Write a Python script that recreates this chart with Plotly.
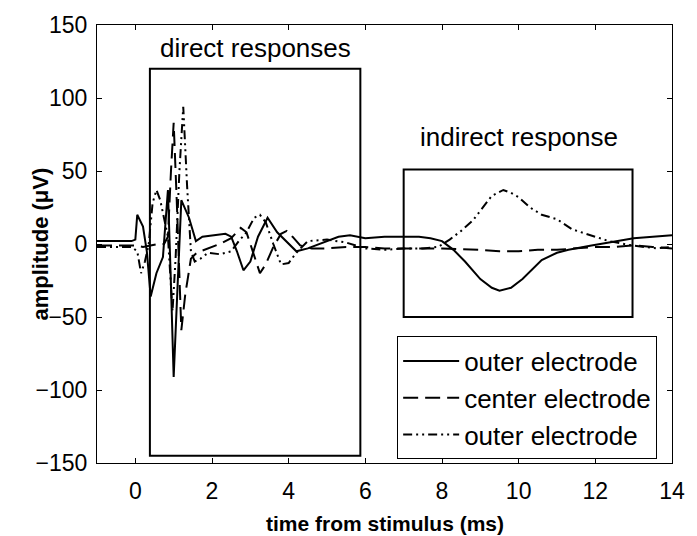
import plotly.graph_objects as go

# Recorded traces: time from stimulus (ms) and amplitude (uV)
t_outer_a = [-1.0, -0.5, -0.1, 0.0, 0.05, 0.2, 0.3, 0.4, 0.55, 0.72, 0.85, 0.92, 1.0, 1.1, 1.2,
             1.4, 1.58, 1.75, 2.0, 2.35, 2.5, 2.65, 2.82, 3.0, 3.2, 3.45, 3.7, 4.05, 4.2, 4.5,
             4.8, 5.0, 5.3, 5.6, 6.0, 6.5, 7.0, 7.4, 7.7, 8.0, 8.3, 8.6, 9.0, 9.3, 9.5, 9.8,
             10.1, 10.6, 11.0, 11.3, 11.9, 12.5, 13.0, 13.5, 14.0]
v_outer_a = [2, 2, 2, 3, 20, 12, -5, -36, -20, -9, 37, -20, -91, -30, 30,
             18, 2, 5, 6, 7, 5, -5, -18, -12, 5, 18, 8, -1, -5, -3,
             0, 2, 5, 6, 4, 5, 5, 5, 4, 2, -4, -12, -24, -30, -32, -30,
             -24, -11, -6, -4, -1, 2, 4, 5, 6]

t_center = [-1.0, -0.5, 0.0, 0.2, 0.4, 0.6, 0.75, 0.85, 0.93, 1.0, 1.08, 1.2, 1.3, 1.45, 1.6,
            1.9, 2.2, 2.5, 2.75, 2.9, 3.1, 3.25, 3.4, 3.6, 3.8, 3.95, 4.1, 4.3, 4.6, 5.0,
            5.5, 6.0, 6.5, 7.0, 8.0, 9.0, 9.5, 10.0, 10.5, 11.0, 11.5, 12.0, 12.5, 13.0,
            13.5, 14.0]
v_center = [-1, -1, -1, -2, -1, 0, 0, 5, 50, 83, 30, -59, -35, -10, -6,
            -3, 0, 4, 11, 8, -8, -20, -14, -2, 7, 9, 5, -1, -3, -3,
            -2, -2, -3, -3, -3, -4, -5, -5, -4, -4, -3, -2, -2, -1,
            -2, -3]

t_outer_b = [-1.0, -0.5, -0.1, 0.05, 0.15, 0.25, 0.35, 0.45, 0.55, 0.65, 0.75, 0.85, 0.97, 1.05,
             1.15, 1.25, 1.35, 1.45, 1.55, 1.7, 1.9, 2.2, 2.5, 2.7, 2.9, 3.1, 3.25, 3.4, 3.6,
             3.8, 4.0, 4.2, 4.5, 5.0, 5.5, 6.0, 6.5, 7.0, 7.5, 7.9, 8.2, 8.5, 8.8, 9.1, 9.3,
             9.6, 9.8, 10.0, 10.3, 10.6, 11.0, 11.4, 11.9, 12.35, 12.95, 13.6, 14.0]
v_outer_b = [-2, -2, -2, -5, -20, -12, 0, 28, 37, 30, 18, 5, -46, -10,
             50, 94, 40, -5, -12, -10, -6, -7, -5, 2, 8, 18, 20, 15, 0,
             -14, -13, -6, 2, 3, 1, -3, -4, -3, -3, -2, 3, 9, 16, 26, 33,
             37, 35, 32, 25, 20, 17, 10, 6, 2, -1, -3, -2]

trace_names = ["outer electrode", "center electrode", "outer electrode"]
x_ticks = [0, 2, 4, 6, 8, 10, 12, 14]
y_ticks = [-150, -100, -50, 0, 50, 100, 150]

# Highlighted windows: (x0, x1, y0, y1)
direct_window = (0.38, 5.87, -145, 120)
indirect_window = (7.0, 12.97, -50, 51)

FONT = "Arial, Liberation Sans, sans-serif"

fig = go.Figure()
fig.add_trace(go.Scatter(x=t_outer_a, y=v_outer_a, mode="lines", name=trace_names[0],
                         line=dict(color="black", width=2)))
fig.add_trace(go.Scatter(x=t_center, y=v_center, mode="lines", name=trace_names[1],
                         line=dict(color="black", width=2, dash="15px,7px")))
fig.add_trace(go.Scatter(x=t_outer_b, y=v_outer_b, mode="lines", name=trace_names[2],
                         line=dict(color="black", width=2, dash="9px,4px,2px,4px,2px,4px")))

for (x0, x1, y0, y1) in (direct_window, indirect_window):
    fig.add_shape(type="rect", x0=x0, x1=x1, y0=y0, y1=y1, xref="x", yref="y",
                  line=dict(color="black", width=2), fillcolor="rgba(0,0,0,0)")

fig.add_annotation(x=3.13, y=134, text="direct responses", showarrow=False,
                   font=dict(family=FONT, size=26, color="black"))
fig.add_annotation(x=10.0, y=73, text="indirect response", showarrow=False,
                   font=dict(family=FONT, size=26, color="black"))

# Axis titles
fig.add_annotation(x=0.5, y=0, xref="paper", yref="paper", yanchor="top", yshift=-47,
                   text="<b>time from stimulus (ms)</b>", showarrow=False,
                   font=dict(family=FONT, size=21, color="black"))
fig.add_annotation(x=-0.1, y=0.5, xref="paper", yref="paper", textangle=-90,
                   xanchor="center", yanchor="middle",
                   text="<b>amplitude (μV)</b>", showarrow=False,
                   font=dict(family=FONT, size=22, color="black"))

axis_common = dict(showline=True, linecolor="black", linewidth=1, mirror="allticks",
                   ticks="inside", ticklen=5, tickcolor="black", showgrid=False,
                   zeroline=False, tickfont=dict(family=FONT, size=23, color="black"))

fig.update_xaxes(range=[-1, 14], tickvals=x_ticks, ticklabelstandoff=7, **axis_common)
fig.update_yaxes(range=[-150, 150], tickvals=y_ticks, ticklabelstandoff=4, **axis_common)

fig.update_layout(
    width=697, height=536,
    margin=dict(l=97, r=14, t=15, b=73),
    paper_bgcolor="white", plot_bgcolor="white",
    font=dict(family=FONT, color="black"),
    showlegend=True,
    legend=dict(x=0.522, y=0.008, xanchor="left", yanchor="bottom",
                bgcolor="white", bordercolor="black", borderwidth=1,
                itemwidth=56, tracegroupgap=0,
                font=dict(family=FONT, size=26, color="black")),
)

fig.write_html("out.html")
